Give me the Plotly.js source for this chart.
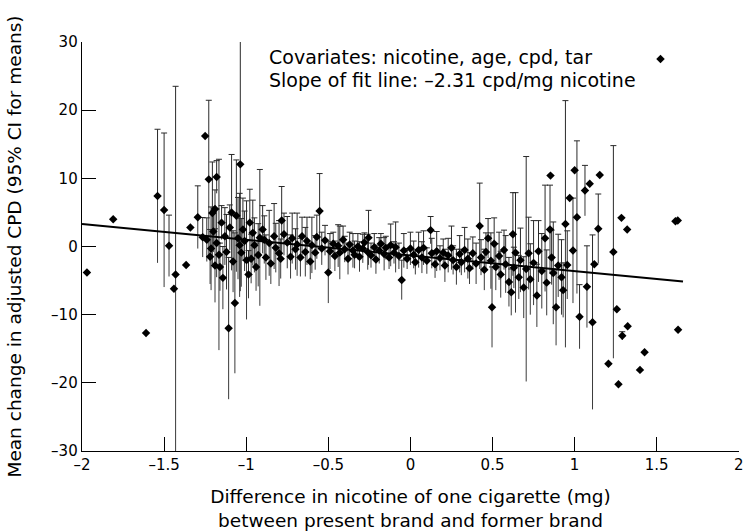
<!DOCTYPE html>
<html>
<head>
<meta charset="utf-8">
<script src="https://cdn.plot.ly/plotly-3.0.1.min.js"></script>
<style>html,body{margin:0;padding:0;background:#fff;}#chart{width:745px;height:532px;}</style>
</head>
<body>
<div id="chart"></div>
<script>
// Points with 95% CI half-widths (difference in nicotine, mean change in CPD, CI half-width)
const barX = [
  -1.54,-1.50,-1.47,-1.43,-1.295,-1.265,-1.228,-1.214,-1.206,-1.19,-1.19,-1.18,-1.166,-1.142,-1.15,
  -1.107,-1.089,-1.069,-1.06,-1.036,-1.04,-1.02,-0.998,-0.986,-0.978,-0.96,-0.917,-0.927,-0.90,-0.89,
  -0.86,-0.83,-0.80,-0.784,
  -1.24,-1.22,-1.20,-1.18,-1.16,-1.13,-1.12,-1.10,-1.08,-1.05,-1.03,-1.01,-0.97,-0.95,-0.94,-0.88,
  -0.85,-0.82,-0.79,-0.77,
  -0.75,-0.73,-0.72,-0.70,-0.69,-0.67,-0.66,-0.64,-0.63,-0.61,-0.60,-0.58,-0.57,-0.553,-0.54,-0.52,
  -0.50,-0.49,-0.47,-0.46,-0.44,-0.43,-0.41,-0.40,-0.38,-0.37,-0.35,-0.34,-0.32,-0.31,-0.29,-0.28,
  -0.26,-0.255,-0.24,-0.22,-0.21,-0.19,-0.18,-0.16,-0.15,-0.13,-0.12,-0.10,-0.09,-0.07,-0.053,-0.04,
  -0.02,0.00,0.02,0.03,0.05,0.07,0.08,0.10,0.123,0.13,0.15,0.16,0.18,0.20,0.21,0.23,0.25,0.26,0.28,
  0.30,0.31,0.33,0.35,0.36,0.38,0.40,0.422,0.43,0.45,0.46,0.473,0.49,0.497,0.51,0.52,0.54,0.55,0.57,
  0.58,0.60,0.614,0.624,0.63,0.64,0.66,0.67,0.69,0.705,0.72,0.73,0.75,0.77,0.78,0.80,0.82,0.83,0.85,
  0.86,0.87,0.887,0.90,0.92,0.93,0.944,0.955,0.99,1.014,1.03,1.063,1.075,1.109,1.144,1.236,1.29
];
const barY = [
  7.4,5.35,0.1,-4.1,4.3,1.35,9.85,-0.3,4.9,-2.8,5.5,10.2,-1.2,-4.6,3.5,
  -12.0,5.0,-8.3,4.5,12.05,0.2,2.5,-2.0,-4.1,3.5,2.0,1.3,-1.25,2.5,1.0,
  0.5,1.5,-1.0,3.8,
  1.0,-1.5,2.2,0.5,-3.0,1.5,-0.8,2.8,-2.2,1.2,-0.9,0.8,-1.8,0.2,-3.0,-1.6,
  -2.5,-0.2,-1.8,1.8,
  0.6,-1.5,1.2,-0.4,0.3,-1.6,1.5,-0.8,0.8,-2.2,0.2,-0.9,1.4,5.2,-0.3,0.9,
  -3.8,-0.7,0.4,-1.4,0.1,-0.9,1.0,-0.4,-1.8,0.3,-0.6,-1.2,0.0,-1.5,-0.3,0.6,
  -0.8,1.3,-1.3,-0.1,-1.9,-0.6,0.4,-1.1,-0.2,-1.6,0.2,-0.9,-0.1,-1.4,-4.9,-0.6,
  -1.8,-0.3,-1.2,-2.3,-0.5,-1.6,-0.2,-2.1,2.4,-1.0,-2.6,-0.7,-1.7,-0.9,-2.8,-1.3,-0.2,-2.0,-3.0,
  -1.1,-2.3,-0.5,-1.8,-3.2,-1.0,-2.5,3.0,-1.6,-3.4,-0.8,1.2,-2.1,-8.9,0.4,-3.0,-1.4,-4.1,-0.5,
  -2.6,-5.2,-6.7,1.8,-3.1,-0.9,-4.5,-2.0,-6.0,-3.3,-1.0,-4.8,-2.4,-7.2,-0.7,-3.6,1.2,-5.3,2.5,
  -1.6,-3.9,-8.9,-2.8,-4.5,-6.4,3.3,-2.7,-0.6,4.3,-10.3,8.2,-5.9,-11.1,2.6,-0.8,-13.1
];
const barCI = [
  9.8,11.3,4.5,27.6,4.6,2.9,11.6,6.1,7.5,5.4,2.8,2.4,14.0,4.6,2.5,
  10.4,8.5,10.3,8.2,18.6,7.6,4.6,8.7,3.5,4.9,4.8,10.0,4.6,3.5,3.5,
  4.8,4.8,4.8,5.0,
  3.2,4.0,3.0,5.0,3.5,4.2,5.5,3.3,4.5,6.0,5.0,4.4,3.6,4.0,3.5,3.3,
  3.0,3.6,2.9,3.1,
  3.8,3.2,3.7,3.0,4.6,2.8,2.8,3.6,3.5,2.6,4.1,2.5,3.2,5.5,2.4,2.2,
  4.5,2.6,1.7,2.2,3.1,3.9,2.0,1.9,2.3,1.8,2.5,2.0,1.9,2.2,2.1,1.4,
  2.6,4.0,1.8,2.0,2.1,1.9,1.5,2.4,1.7,1.7,3.1,1.6,3.7,1.9,2.9,2.5,
  1.5,2.4,2.0,1.8,2.6,2.3,2.5,1.9,2.0,2.2,2.0,2.9,1.8,2.0,2.4,2.5,3.2,2.1,2.6,
  2.7,1.9,3.3,2.9,2.3,2.4,3.0,6.3,2.6,3.0,2.8,2.9,4.1,5.9,3.8,3.4,3.5,3.4,2.9,
  4.2,3.6,3.4,6.1,3.0,8.8,3.2,4.7,4.5,16.5,5.3,5.2,6.2,4.6,4.5,5.5,7.8,4.8,6.5,
  4.0,7.5,5.6,4.6,5.5,4.0,18.1,5.0,7.7,11.2,4.7,3.7,6.0,12.8,5.1,15.6,0.6
];
// Points shown without a confidence interval
const dotX = [-1.97,-1.81,-1.61,-1.44,-1.366,-1.34,-1.25,0.853,0.97,1.0,1.092,1.153,1.285,1.32,1.523,1.614,1.628,1.257,1.323,1.63,1.426,1.206,1.398,1.267,1.12];
const dotY = [-3.8,4.0,-12.7,-6.2,-2.7,2.8,16.2,10.4,7.1,11.2,9.2,10.5,4.2,2.5,27.5,3.7,3.8,-9.2,-11.7,-12.2,-15.5,-17.2,-18.1,-20.2,-2.6];
// Fitted line (slope -2.31 cpd/mg nicotine)
const fitX = [-2, 1.66];
const fitY = [3.3, -5.15];
// Tick labels
const xTickVals = [-2,-1.5,-1,-0.5,0,0.5,1,1.5,2];
const xTickText = ['–2','–1.5','–1','–0.5','0','0.5','1','1.5','2'];
const yTickVals = [-30,-20,-10,0,10,20,30];
const yTickText = ['–30','–20','–10','0','10','20','30'];

const zeros = barCI.map(() => 0);
const FONT = 'DejaVu Sans, Verdana, sans-serif';

const traces = [
  { // lower half of the CI (no caps)
    type: 'scatter', mode: 'markers', x: barX, y: barY, hoverinfo: 'skip',
    marker: {size: 1, color: 'rgba(0,0,0,0)'},
    error_y: {type: 'data', symmetric: false, array: zeros, arrayminus: barCI,
              width: 0, thickness: 1, color: '#3a3a3a'}
  },
  { // upper half of the CI with caps, plus the mean
    type: 'scatter', mode: 'markers', x: barX, y: barY,
    marker: {symbol: 'diamond', size: 6.5, color: '#000'},
    error_y: {type: 'data', symmetric: false, array: barCI, arrayminus: zeros,
              width: 3, thickness: 1, color: '#2a2a2a'}
  },
  {
    type: 'scatter', mode: 'markers', x: dotX, y: dotY,
    marker: {symbol: 'diamond', size: 6.5, color: '#000'}
  },
  {
    type: 'scatter', mode: 'lines', x: fitX, y: fitY,
    line: {color: '#000', width: 2}
  }
];

const layout = {
  width: 745, height: 532,
  margin: {l: 82, r: 6, t: 42, b: 81},
  paper_bgcolor: '#fff', plot_bgcolor: '#fff',
  showlegend: false,
  font: {family: FONT, color: '#000', size: 15},
  xaxis: {
    range: [-2, 2.001], tickvals: xTickVals, ticktext: xTickText,
    ticks: 'inside', ticklen: 14, tickwidth: 1, tickcolor: '#000',
    ticklabeloverflow: 'allow',
    showline: true, linecolor: '#000', linewidth: 1.3,
    showgrid: false, zeroline: false, tickfont: {size: 15, family: FONT},
    title: {text: 'Difference in nicotine of one cigarette (mg)<br>between present brand and former brand',
            font: {size: 18.5, family: FONT}, standoff: 16}
  },
  yaxis: {
    range: [-30, 30], tickvals: yTickVals, ticktext: yTickText,
    ticks: 'inside', ticklen: 14, tickwidth: 1, tickcolor: '#000',
    showline: true, linecolor: '#000', linewidth: 1.3,
    showgrid: false, zeroline: false, tickfont: {size: 15, family: FONT},
    title: {text: 'Mean change in adjusted CPD (95% CI for means)',
            font: {size: 18.5, family: FONT}, standoff: 24}
  },
  annotations: [
    {xref: 'x', yref: 'paper', x: -0.873, y: 0.963, xanchor: 'left', yanchor: 'middle',
     showarrow: false, text: 'Covariates: nicotine, age, cpd, tar',
     font: {size: 19, family: FONT, color: '#000'}},
    {xref: 'x', yref: 'paper', x: -0.873, y: 0.907, xanchor: 'left', yanchor: 'middle',
     showarrow: false, text: 'Slope of fit line: –2.31 cpd/mg nicotine',
     font: {size: 19, family: FONT, color: '#000'}}
  ]
};

Plotly.newPlot('chart', traces, layout, {displayModeBar: false, staticPlot: true});
</script>
</body>
</html>
